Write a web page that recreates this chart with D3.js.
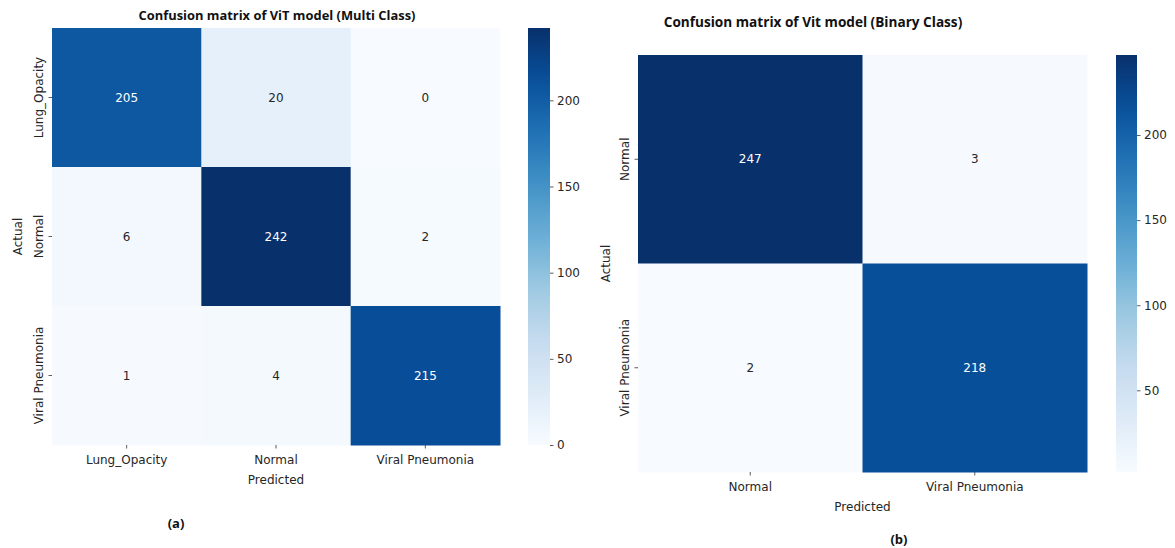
<!DOCTYPE html>
<html><head><meta charset="utf-8">
<script src="https://cdn.jsdelivr.net/npm/d3@7"></script>
<style>body{margin:0;background:#fff}svg{display:block}</style>
</head><body>
<svg id="c" width="1175" height="548"></svg>
<script>
const classesMulti = ["Lung_Opacity", "Normal", "Viral Pneumonia"];
const valuesMulti = [
  [205, 20, 0],
  [6, 242, 2],
  [1, 4, 215]
];
const ticksMulti = [0, 50, 100, 150, 200];

const classesBinary = ["Normal", "Viral Pneumonia"];
const valuesBinary = [
  [247, 3],
  [2, 218]
];
const ticksBinary = [50, 100, 150, 200];

const blues = ["#f7fbff","#deebf7","#c6dbef","#9ecae1","#6baed6","#4292c6","#2171b5","#08519c","#08306b"];
const interp = d3.piecewise(d3.interpolateRgb, blues);
const svg = d3.select("#c");
const TF = "'DejaVu Sans', sans-serif";
const titleFont = "'Open Sans', 'Liberation Sans', sans-serif";

function lum(c){
  const rgb = d3.rgb(c);
  const f = v => { v/=255; return v <= 0.03928 ? v/12.92 : Math.pow((v+0.055)/1.055, 2.4); };
  return 0.2126*f(rgb.r)+0.7152*f(rgb.g)+0.0722*f(rgb.b);
}

function heatmap(cfg){
  const {classes, values, ticks, x0, x1, y0, y1, cbX, cbW, title, titleX, titleY, titleSize, caption, capX, capY, predY, actX} = cfg;
  const flat = values.flat();
  const vmin = d3.min(flat), vmax = d3.max(flat);
  const color = d3.scaleSequential(interp).domain([vmin, vmax]);
  const x = d3.scaleBand().domain(classes).range([x0, x1]);
  const y = d3.scaleBand().domain(classes).range([y0, y1]);
  const g = svg.append("g");
  const cells = [];
  values.forEach((row, i) => row.forEach((v, j) => cells.push({r: classes[i], c: classes[j], v})));
  g.selectAll("rect.cell").data(cells).join("rect")
    .attr("x", d => x(d.c)).attr("y", d => y(d.r))
    .attr("width", x.bandwidth()+0.5).attr("height", y.bandwidth()+0.5)
    .attr("fill", d => color(d.v));
  g.selectAll("text.ann").data(cells).join("text")
    .attr("x", d => x(d.c) + x.bandwidth()/2).attr("y", d => y(d.r) + y.bandwidth()/2)
    .attr("text-anchor", "middle").attr("dominant-baseline", "central")
    .attr("font-family", TF).attr("font-size", 12)
    .attr("fill", d => lum(color(d.v)) > 0.408 ? "#262626" : "#ffffff")
    .text(d => d.v);
  // x axis
  const xa = g.append("g").attr("transform", `translate(0,${y1})`)
    .call(d3.axisBottom(x).tickSize(3.5).tickPadding(4.5));
  xa.select(".domain").remove();
  xa.selectAll("line").attr("stroke", "#333").attr("stroke-width", 0.8);
  xa.selectAll("text").attr("font-family", TF).attr("font-size", 12).attr("fill", "#262626").attr("dy", "0.9em");
  // y axis
  const ya = g.append("g").attr("transform", `translate(${x0},0)`)
    .call(d3.axisLeft(y).tickSize(3.5).tickPadding(3.5));
  ya.select(".domain").remove();
  ya.selectAll("line").attr("stroke", "#333").attr("stroke-width", 0.8);
  ya.selectAll("text").attr("font-family", TF).attr("font-size", 12).attr("fill", "#262626")
    .attr("text-anchor", "middle")
    .attr("transform", "translate(-9.5,0) rotate(-90)")
    .attr("x", 0).attr("y", 0).attr("dy", "0em");
  // colorbar
  const cb = d3.scaleLinear().domain([vmin, vmax]).range([y1, y0]);
  const defs = svg.append("defs");
  const gid = "grad" + Math.round(x0);
  const grad = defs.append("linearGradient").attr("id", gid).attr("x1", 0).attr("y1", 1).attr("x2", 0).attr("y2", 0);
  d3.range(0, 1.0001, 0.05).forEach(t => grad.append("stop").attr("offset", t).attr("stop-color", interp(t)));
  g.append("rect").attr("x", cbX).attr("y", y0).attr("width", cbW).attr("height", y1 - y0).attr("fill", `url(#${gid})`);
  const ca = g.append("g").attr("transform", `translate(${cbX+cbW},0)`)
    .call(d3.axisRight(cb).tickValues(ticks).tickSize(3.5).tickPadding(3.5));
  ca.select(".domain").remove();
  ca.selectAll("line").attr("stroke", "#333").attr("stroke-width", 0.8);
  ca.selectAll("text").attr("font-family", TF).attr("font-size", 12).attr("fill", "#262626");
  // labels
  g.append("text").attr("x", (x0+x1)/2).attr("y", predY).attr("text-anchor", "middle")
    .attr("font-family", TF).attr("font-size", 12).attr("fill", "#262626").text("Predicted");
  g.append("text").attr("transform", `translate(${actX},${(y0+y1)/2}) rotate(-90)`).attr("text-anchor", "middle")
    .attr("font-family", TF).attr("font-size", 12).attr("fill", "#262626").text("Actual");
  g.append("text").attr("x", titleX).attr("y", titleY).attr("text-anchor", "middle")
    .attr("font-family", titleFont).attr("font-weight", "bold").attr("font-size", titleSize).attr("fill", "#111").text(title);
  g.append("text").attr("x", capX).attr("y", capY).attr("text-anchor", "middle")
    .attr("font-family", titleFont).attr("font-weight", "bold").attr("font-size", 13).attr("fill", "#111").text(caption);
}

heatmap({classes: classesMulti, values: valuesMulti, ticks: ticksMulti,
  x0: 52, x1: 500, y0: 28, y1: 445, cbX: 528, cbW: 22,
  title: "Confusion matrix of ViT model (Multi Class)", titleX: 277, titleY: 20, titleSize: 12.9,
  predY: 484, actX: 22, caption: "(a)", capX: 176, capY: 528});

heatmap({classes: classesBinary, values: valuesBinary, ticks: ticksBinary,
  x0: 638, x1: 1087, y0: 55, y1: 472, cbX: 1116, cbW: 21,
  title: "Confusion matrix of Vit model (Binary Class)", titleX: 813, titleY: 27, titleSize: 13.6,
  predY: 511, actX: 610, caption: "(b)", capX: 899, capY: 544});
</script>
</body></html>
